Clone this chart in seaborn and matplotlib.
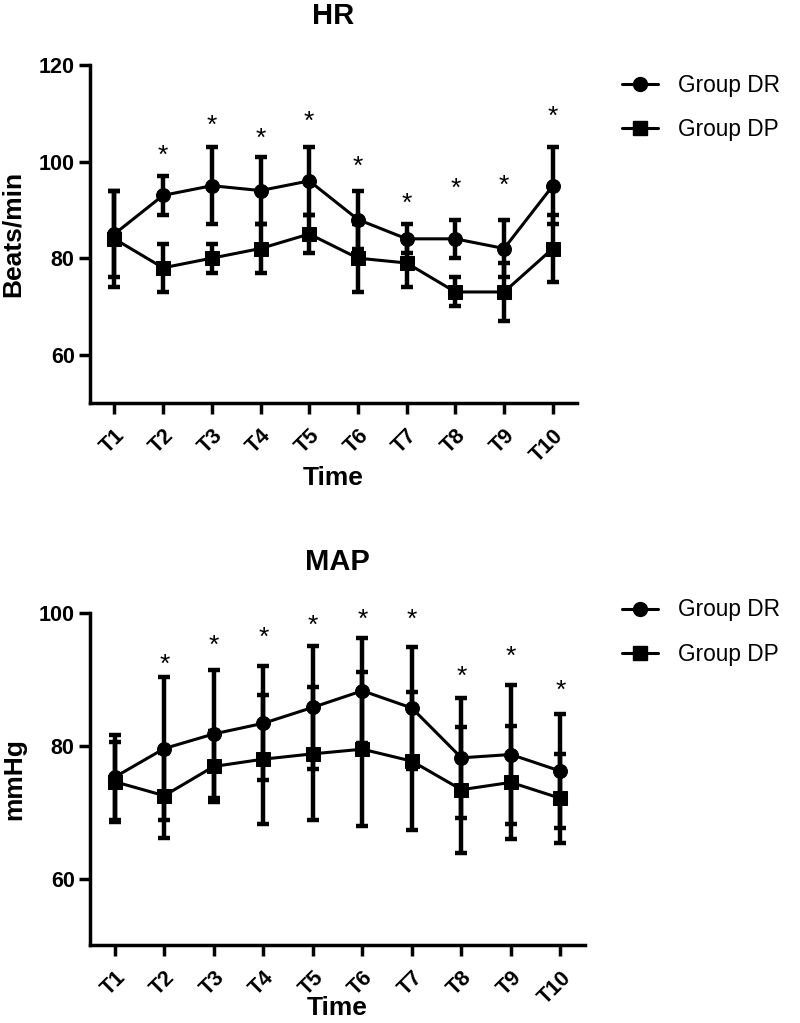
import numpy as np
import pandas as pd
import matplotlib
matplotlib.use('Agg')
import matplotlib.pyplot as plt
import seaborn as sns
from matplotlib.lines import Line2D

# Time points and groups
times = ['T1', 'T2', 'T3', 'T4', 'T5', 'T6', 'T7', 'T8', 'T9', 'T10']
groups = ['Group DR', 'Group DP']

# HR (beats/min), mean and SD
hr_dr = [85, 93, 95, 94, 96, 88, 84, 84, 82, 95]
hr_dr_sd = [9, 4, 8, 7, 7, 6, 3, 4, 6, 8]
hr_dp = [84, 78, 80, 82, 85, 80, 79, 73, 73, 82]
hr_dp_sd = [10, 5, 3, 5, 4, 7, 5, 3, 6, 7]
hr_stars = [None, 102.3, 108.5, 105.7, 109.2, 100, 92.2, 95.3, 96, 110.3]

# MAP (mmHg)
map_dr = [75.3, 79.6, 81.8, 83.4, 85.8, 88.3, 85.7, 78.2, 78.7, 76.2]
map_dr_sd = [6.4, 10.7, 9.7, 8.6, 9.3, 7.9, 9.2, 9.0, 10.5, 8.6]
map_dp = [74.6, 72.5, 76.9, 78.0, 78.8, 79.5, 77.7, 73.4, 74.5, 72.1]
map_dp_sd = [6.0, 6.4, 5.4, 9.7, 10.0, 11.6, 10.4, 9.5, 8.5, 6.7]
map_stars = [None, 93, 95.8, 97, 98.9, 99.8, 99.8, 91.1, 94.2, 89]

sns.set_style('ticks')
plt.rcParams['font.family'] = ['Liberation Sans', 'DejaVu Sans']
for k in ['text.color', 'axes.labelcolor', 'xtick.color', 'ytick.color', 'axes.edgecolor']:
    plt.rcParams[k] = 'black'

fig = plt.figure(figsize=(8, 10.23), dpi=100)


def draw_panel(ax, title, ylabel, dr, dr_sd, dp, dp_sd, stars, ylim, yticks,
               leg_y, title_y, xlab_y, ylab_x):
    n = len(times)
    df = pd.DataFrame({
        'time': list(range(n)) * 2,
        'value': dr + dp,
        'sd': dr_sd + dp_sd,
        'group': [groups[0]] * n + [groups[1]] * n,
    })
    sns.lineplot(data=df, x='time', y='value', style='group',
                 markers={'Group DR': 'o', 'Group DP': 's'}, dashes=False,
                 color='black', linewidth=2.2, markersize=10,
                 markeredgecolor='black', ax=ax, legend=False)
    for g, sub in df.groupby('group'):
        ax.errorbar(sub['time'], sub['value'], yerr=sub['sd'], fmt='none',
                    ecolor='black', elinewidth=3.2, capsize=4, capthick=3.2)
    for i, s in enumerate(stars):
        if s is not None:
            ax.annotate('*', (i, s), xytext=(0, -5), textcoords='offset pixels',
                        ha='center', va='center', fontsize=19)

    ax.set_xlim(-0.5, n - 0.5)
    ax.set_ylim(*ylim)
    ax.set_yticks(yticks)
    ax.set_xticks(range(n))
    ax.set_xticklabels(times, rotation=45, ha='right', rotation_mode='anchor',
                       fontsize=15.5, fontweight='bold')
    ax.tick_params(axis='both', width=2.5, length=8, pad=3)
    ax.tick_params(axis='y', labelsize=15.5)
    ax.tick_params(axis='x', pad=8)
    for lab in ax.get_yticklabels():
        lab.set_fontweight('bold')
    sns.despine(ax=ax)
    for sp in ['left', 'bottom']:
        ax.spines[sp].set_linewidth(2.5)

    ax.text(0.5, title_y, title, transform=ax.transAxes, ha='center', va='center',
            fontsize=21, fontweight='bold')
    ax.set_xlabel('Time', fontsize=19, fontweight='bold', va='center')
    ax.xaxis.set_label_coords(0.5, xlab_y)
    ax.set_ylabel(ylabel, fontsize=19, fontweight='bold', va='center')
    ax.yaxis.set_label_coords(ylab_x, 0.5)

    handles = [
        Line2D([0], [0], color='black', lw=2.2, marker='o', ms=10),
        Line2D([0], [0], color='black', lw=2.2, marker='s', ms=10),
    ]
    ax.legend(handles, groups, loc='upper left', bbox_to_anchor=(0.777, leg_y),
              bbox_transform=fig.transFigure, frameon=False, fontsize=16.3,
              handlelength=1.6, handletextpad=0.9, labelspacing=0.95,
              borderpad=0, borderaxespad=0)


ax1 = fig.add_axes([0.1125, 0.606, 0.609, 0.3305])
draw_panel(ax1, 'HR', 'Beats/min', hr_dr, hr_dr_sd, hr_dp, hr_dp_sd, hr_stars,
           (50, 120), [60, 80, 100, 120], 0.928, 1.146, -0.222, -0.158)

ax2 = fig.add_axes([0.1125, 0.0762, 0.619, 0.3245])
draw_panel(ax2, 'MAP', 'mmHg', map_dr, map_dr_sd, map_dp, map_dp_sd, map_stars,
           (50, 100), [60, 80, 100], 0.415, 1.154, -0.19, -0.152)

plt.savefig('out.png', dpi=100)
